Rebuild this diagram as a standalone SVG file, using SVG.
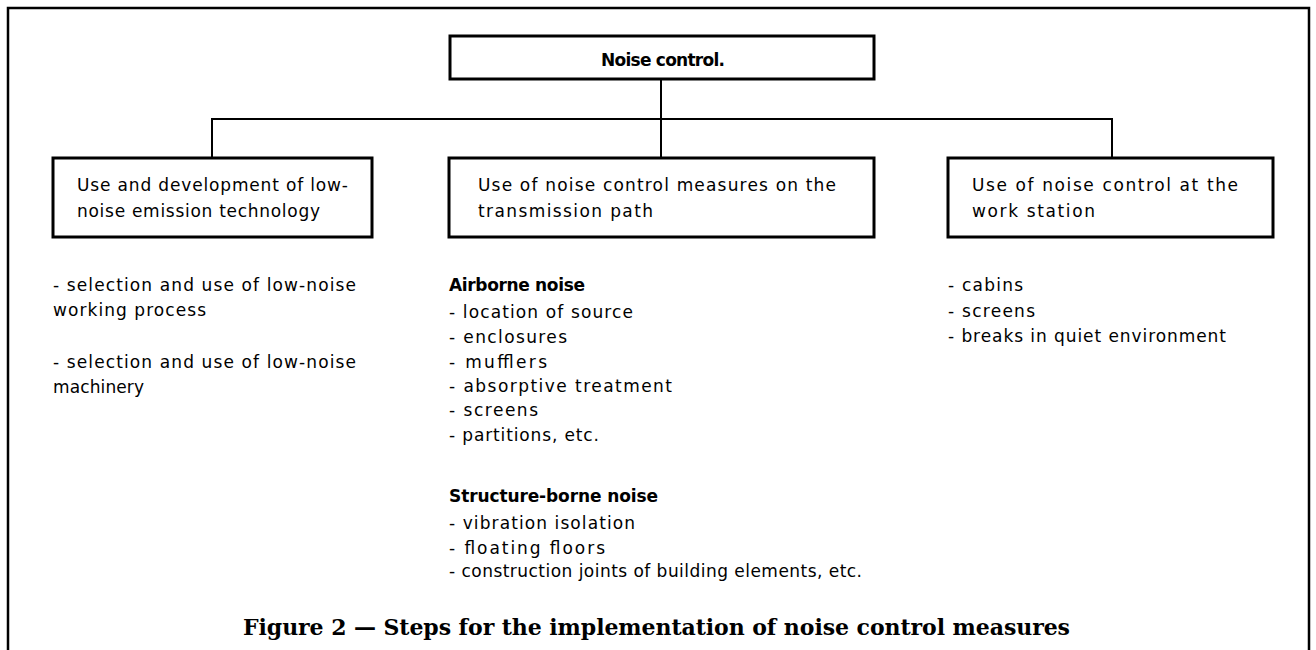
<svg xmlns="http://www.w3.org/2000/svg" width="1316" height="650" viewBox="0 0 1316 650">
<style>
.box{fill:#fff;stroke:#000;stroke-width:3}
.ln{fill:none;stroke:#000;stroke-width:2}
text{font-family:"DejaVu Sans","Liberation Sans",sans-serif;font-size:17px;fill:#000}
.b{font-weight:bold}
.cap{font-family:"DejaVu Serif","Liberation Serif",serif;font-size:22px;font-weight:bold}
</style>
<rect x="0" y="0" width="1316" height="650" fill="#fff"/>
<path d="M8,652 V8 H1309 V652" fill="none" stroke="#000" stroke-width="2.5"/>
<g id="connectors">
<path class="ln" d="M661,79 V158"/>
<path class="ln" d="M212,158 V119 H1112 V158"/>
</g>
<g id="root">
<rect class="box" x="450" y="36" width="424" height="43"/>
<text class="b" x="601" y="66" textLength="124" lengthAdjust="spacing">Noise control.</text>
</g>
<g id="n1">
<rect class="box" x="53" y="158" width="319" height="79"/>
<text x="77" y="191" textLength="271" lengthAdjust="spacing">Use and development of low-</text>
<text x="77" y="217" textLength="243" lengthAdjust="spacing">noise emission technology</text>
</g>
<g id="n2">
<rect class="box" x="449" y="158" width="425" height="79"/>
<text x="478" y="191" textLength="358" lengthAdjust="spacing">Use of noise control measures on the</text>
<text x="478" y="217" textLength="175" lengthAdjust="spacing">transmission path</text>
</g>
<g id="n3">
<rect class="box" x="948" y="158" width="325" height="79"/>
<text x="972" y="191" textLength="266" lengthAdjust="spacing">Use of noise control at the</text>
<text x="972" y="217" textLength="123" lengthAdjust="spacing">work station</text>
</g>
<g id="list1">
<text x="53" y="291" textLength="303" lengthAdjust="spacing">- selection and use of low-noise</text>
<text x="53" y="316" textLength="153" lengthAdjust="spacing">working process</text>
<text x="53" y="368" textLength="303" lengthAdjust="spacing">- selection and use of low-noise</text>
<text x="53" y="393" textLength="91" lengthAdjust="spacing">machinery</text>
</g>
<g id="list2">
<text class="b" x="449" y="291" textLength="136" lengthAdjust="spacing">Airborne noise</text>
<text x="449" y="318" textLength="184" lengthAdjust="spacing">- location of source</text>
<text x="449" y="343" textLength="118" lengthAdjust="spacing">- enclosures</text>
<text x="449" y="368" textLength="98" lengthAdjust="spacing">- mufflers</text>
<text x="449" y="392" textLength="223" lengthAdjust="spacing">- absorptive treatment</text>
<text x="449" y="416" textLength="89" lengthAdjust="spacing">- screens</text>
<text x="449" y="441" textLength="150" lengthAdjust="spacing">- partitions, etc.</text>
<text class="b" x="449" y="502" textLength="209" lengthAdjust="spacing">Structure-borne noise</text>
<text x="449" y="529" textLength="186" lengthAdjust="spacing">- vibration isolation</text>
<text x="449" y="554" textLength="156" lengthAdjust="spacing">- floating floors</text>
<text x="449" y="577" textLength="413" lengthAdjust="spacing">- construction joints of building elements, etc.</text>
</g>
<g id="list3">
<text x="948" y="291" textLength="75" lengthAdjust="spacing">- cabins</text>
<text x="948" y="317" textLength="87" lengthAdjust="spacing">- screens</text>
<text x="948" y="342" textLength="278" lengthAdjust="spacing">- breaks in quiet environment</text>
</g>
<text class="cap" x="243" y="635" textLength="827" lengthAdjust="spacing">Figure 2 — Steps for the implementation of noise control measures</text>
</svg>
